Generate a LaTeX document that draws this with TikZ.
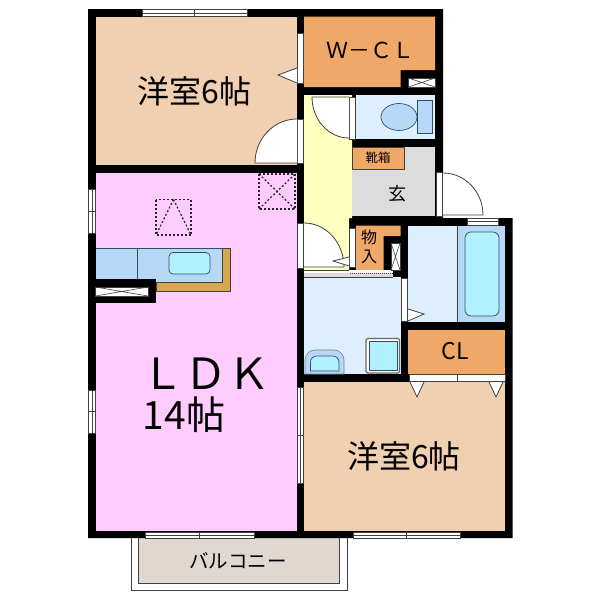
\documentclass[tikz,border=0pt]{standalone}
\usepackage{fontspec}
\setmainfont{Noto Sans CJK JP}
\definecolor{cRoom}{HTML}{F0D0B0}
\definecolor{cOrange}{HTML}{F0A868}
\definecolor{cLdk}{HTML}{FFCCFF}
\definecolor{cHall}{HTML}{FFFFC0}
\definecolor{cWet}{HTML}{DDEEFF}
\definecolor{cBlue}{HTML}{B8D8F8}
\definecolor{cCyan}{HTML}{B0F0FF}
\definecolor{cGen}{HTML}{DCDCDC}
\definecolor{cTan}{HTML}{D8A850}
\definecolor{cBal}{HTML}{E0D8D0}
\definecolor{cLine}{HTML}{404040}
\definecolor{cFix}{HTML}{305060}
\tikzset{
  x=1pt,y=-1pt,
  wall/.style={fill=black,draw=none},
  room/.style={draw=none},
  fixture/.style={draw=cFix,line width=0.7pt},
  frame/.style={fill=white,draw=cLine,line width=0.5pt},
  doorleaf/.style={draw=cLine,line width=0.8pt},
  hatch/.style={draw=black!85,line width=1.2pt,dash pattern=on 2pt off 2pt},
  roomtext/.style={inner sep=0pt,text=black,font=\fontsize{32}{32}\selectfont},
}
% horizontal sliding window: x1 x2 y1 y2
\newcommand{\hwin}[4]{%
  \draw[frame] (#1,#3) rectangle (#2,#4);
  \draw[cLine,line width=0.5pt] (#1,{(#3+#4)/2}) -- (#2,{(#3+#4)/2});
  \draw[cLine,line width=0.5pt] ({(#1+#2)/2},#3) -- ({(#1+#2)/2},#4);}
% vertical sliding window
\newcommand{\vwin}[4]{%
  \draw[frame] (#1,#3) rectangle (#2,#4);
  \draw[cLine,line width=0.5pt] ({(#1+#2)/2},#3) -- ({(#1+#2)/2},#4);
  \draw[cLine,line width=0.5pt] (#1,{(#3+#4)/2}) -- (#2,{(#3+#4)/2});}
\newcommand{\xbox}[4]{%
  \draw[frame] (#1,#3) rectangle (#2,#4);
  \draw[cLine,line width=0.6pt] (#1,#3) -- (#2,#4) (#1,#4) -- (#2,#3);}
\begin{document}
\begin{tikzpicture}
\useasboundingbox (0,0) rectangle (600,600);
\fill[white] (0,0) rectangle (600,600);
% balcony
\draw[fill=white,draw=cLine,line width=0.8pt] (131,538) -- (131,590.5) -- (347,590.5) -- (347,538);
\draw[fill=cBal,draw=cLine,line width=0.8pt] (138.5,538) -- (138.5,583) -- (339.5,583) -- (339.5,538);
% walls silhouette
\fill[wall] (88,9) -- (443,9) -- (443,218) -- (512.5,218) -- (512.5,538) -- (88,538) -- cycle;
% rooms
\fill[room,cRoom] (95.5,16.5) rectangle (297,165);
\fill[room,cOrange] (304,16.5) -- (435,16.5) -- (435,70) -- (400.5,70) -- (400.5,87) -- (304,87) -- cycle;
\fill[room,cLdk] (95.5,173) rectangle (297,531);
\fill[room,cHall] (304,95) -- (352,95) -- (352,218) -- (349,218) -- (349,270) -- (304,270) -- cycle;
\fill[room,cWet] (356,95) rectangle (435,139);
\fill[room,cGen] (352,147) rectangle (435,216);
\fill[cOrange,draw=cLine,line width=0.6pt] (352,147) rectangle (404,169);
\fill[room,cOrange] (356,225.5) -- (400.5,225.5) -- (400.5,236) -- (383.5,236) -- (383.5,270) -- (356,270) -- cycle;
\fill[room,cWet] (408,225.5) rectangle (505,322);
\fill[room,cBlue] (457,225.5) rectangle (505,322);
\draw[cLine,line width=0.6pt] (457,225.5) -- (457,322);
\fill[room,cWet] (304,277) rectangle (400.5,374);
\fill[room,cOrange] (408,330) rectangle (505,374);
\fill[room,cRoom] (304,381.5) rectangle (505,531);
% strip above washroom
\fill[white] (304,270) rectangle (393,277);
\fill[cGen] (304,272.5) rectangle (393,277);
\draw[cLine,line width=0.5pt] (304,270) -- (349,270) (304,277) -- (393,277);
\draw[black!70,line width=1pt,densely dotted] (350,273.5) -- (393,273.5);
% kitchen
\fill[cBlue] (95.5,248) rectangle (222,282);
\draw[cFix,line width=0.7pt] (95.5,248) -- (222,248);
\draw[cFix,line width=0.7pt] (137,248) -- (137,279);
\draw[fill=cTan,draw=cLine,line width=0.7pt] (222,248) -- (230.5,248) -- (230.5,291) -- (156,291) -- (156,282) -- (222,282) -- cycle;
\draw[fixture,fill=cCyan,rounded corners=4pt] (169,252.5) rectangle (210,274);
\fill[wall] (88,278.5) rectangle (156,303);
% closets with X
\xbox{408.5}{435}{78}{87}
\xbox{391}{400}{243}{270}
\xbox{95.5}{148}{287}{296}
% windows
\hwin{142}{247}{9.5}{16}
\hwin{145}{254}{532}{538}
\hwin{353}{460}{532}{538}
\vwin{88.5}{95}{189}{233}
\vwin{88.5}{95}{390}{433}
\vwin{297.5}{303.5}{387}{483}
\draw[frame] (467,218.5) rectangle (498,225);
\draw[cLine,line width=0.5pt] (467,221.5) -- (498,221.5);
% door frames
\draw[frame] (297.5,33) rectangle (303.5,83);
\draw[frame] (297.5,119) rectangle (303.5,163);
\draw[frame] (297.5,223) rectangle (303.5,268);
\draw[frame] (349.5,97) rectangle (355.5,139);
\draw[frame] (436,172) rectangle (442.5,216);
\draw[frame] (349.5,228) rectangle (355.5,267);
\draw[frame] (401,278) rectangle (407.5,321);
\draw[frame] (409,374.5) rectangle (457,381);
\draw[frame] (457,374.5) rectangle (505,381);
% door swings
\fill[white] (297,163) -- (297,119) arc[start angle=90,end angle=180,x radius=42pt,y radius=44pt] -- cycle;
\draw[doorleaf] (297,119) arc[start angle=90,end angle=180,x radius=42pt,y radius=44pt] -- (297,163);
\fill[white] (349,97) -- (312,97) arc[start angle=180,end angle=270,x radius=37pt,y radius=41pt] -- cycle;
\draw[doorleaf] (349,97) -- (312,97) arc[start angle=180,end angle=270,x radius=37pt,y radius=41pt];
\fill[white] (443,215) -- (443,173) arc[start angle=90,end angle=0,x radius=40pt,y radius=42pt] -- cycle;
\draw[doorleaf] (443,173) arc[start angle=90,end angle=0,x radius=40pt,y radius=42pt] -- (443,215);
\fill[white] (304,267) -- (304,223) arc[start angle=90,end angle=0,x radius=40pt,y radius=44pt] -- cycle;
\draw[doorleaf] (304,223) arc[start angle=90,end angle=0,x radius=40pt,y radius=44pt] -- (304,267);
% folding door triangles
\draw[doorleaf,fill=white] (297,68) -- (278,75) -- (297,83);
\draw[doorleaf,fill=white] (349,257) -- (333,261) -- (349,266);
\draw[doorleaf,fill=white] (408,309) -- (424,314) -- (408,321);
\draw[doorleaf,fill=white] (410,382) -- (417,397) -- (424,382);
\draw[doorleaf,fill=white] (489,382) -- (496,397) -- (503,382);
% toilet
\draw[fixture,fill=cBlue] (399,117) ellipse[x radius=18pt,y radius=13.5pt];
\draw[fixture,fill=cBlue] (417,100.5) rectangle (432,133.5);
% bath
\draw[fixture,fill=cCyan,rounded corners=6pt] (465,232) rectangle (499,316);
% washer and basin
\draw[draw=cLine!80,fill=white,line width=1.2pt,rounded corners=2pt] (366,338.5) rectangle (399.5,373);
\draw[fixture,fill=cCyan] (369,341) rectangle (397,370.5);
\draw[draw=cFix!70,fill=cBlue,line width=0.6pt] (305,374) -- (305,360) arc[start angle=180,end angle=90,radius=10pt] -- (334,350) arc[start angle=90,end angle=0,radius=10pt] -- (344,374) -- cycle;
\draw[fixture,fill=cCyan] (310.5,371) -- (310.5,362) arc[start angle=180,end angle=90,radius=6pt] -- (333,356) arc[start angle=90,end angle=0,radius=6pt] -- (339,371) -- cycle;
% dashed overhead boxes
\draw[hatch] (156,199.5) rectangle (191,235);
\draw[hatch] (173.5,199.5) -- (156,235) (173.5,199.5) -- (191,235);
\draw[hatch] (259,174) rectangle (295,209);
\draw[hatch] (259,174) -- (295,209) (259,209) -- (295,174);
% texts
\node[roomtext] (room1) at (194.5,91) {洋室6帖};
\node[roomtext] (room2) at (404,456.5) {洋室6帖};
\node[roomtext,font=\fontsize{43}{43}\selectfont] (ldk) at (206,374) {ＬＤＫ};
\node[roomtext,font=\fontsize{39}{39}\selectfont] (ldkarea) at (184,415) {14帖};
\node[roomtext,font=\fontsize{22}{22}\selectfont] (wcl) at (370,50) {Ｗ－ＣＬ};
\node[roomtext,font=\fontsize{12.5}{12.5}\selectfont] (shoe) at (378,158) {靴箱};
\node[roomtext,font=\fontsize{18}{18}\selectfont] (genkan) at (397,194) {玄};
\node[roomtext,font=\fontsize{16}{16}\selectfont] (mono) at (369,237) {物};
\node[roomtext,font=\fontsize{16}{16}\selectfont] (iri) at (369,257) {入};
\node[roomtext,font=\fontsize{23}{23}\selectfont] (cl) at (455,351.5) {CL};
\node[roomtext,font=\fontsize{19.5}{19.5}\selectfont] (bal) at (238,561) {バルコニー};
\end{tikzpicture}
\end{document}
